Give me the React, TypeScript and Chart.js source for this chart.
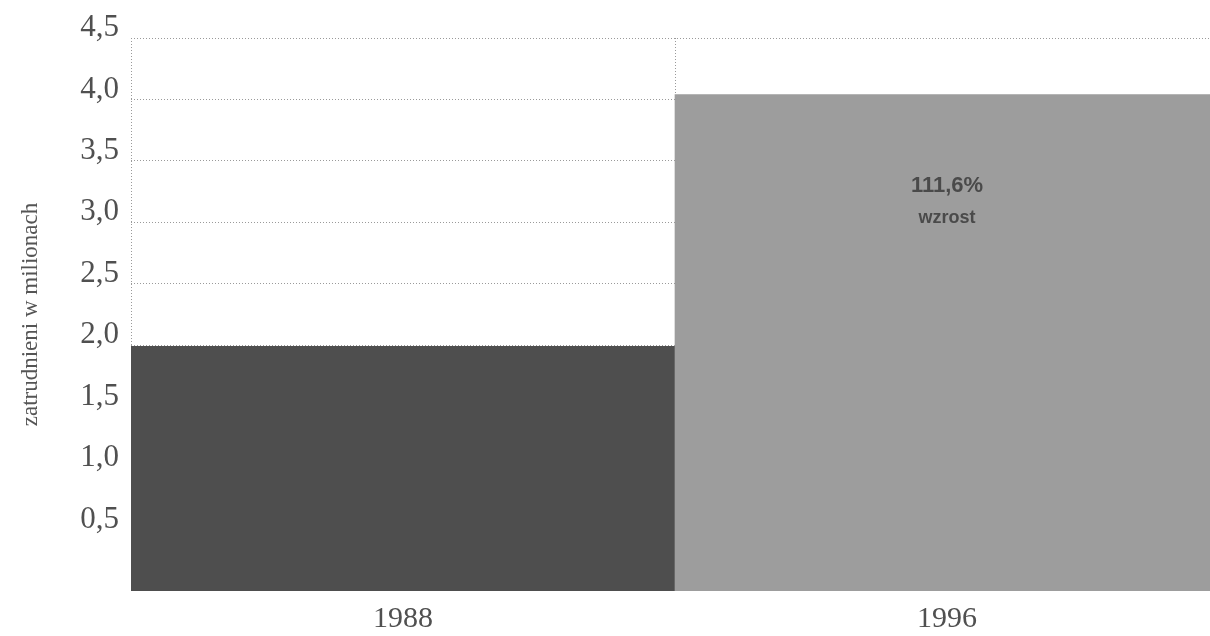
import React, { useEffect, useRef } from "react";
import { Chart, registerables } from "chart.js";

Chart.register(...registerables);

// Employment (millions) by year
const years = ["1988", "1996"];
const employedMillions = [1.99, 4.04];
const barColors = ["#4e4e4e", "#9d9d9d"];
const yTickValues = [0.5, 1.0, 1.5, 2.0, 2.5, 3.0, 3.5, 4.0, 4.5];
const yTickLabels = ["0,5", "1,0", "1,5", "2,0", "2,5", "3,0", "3,5", "4,0", "4,5"];
const growthLines = ["111,6%", "wzrost"];
const yAxisTitle = "zatrudnieni w milionach";

const growthLabelPlugin = {
  id: "growthLabel",
  afterDatasetsDraw(chart: any) {
    const meta = chart.getDatasetMeta(0);
    const bar = meta.data[1];
    if (!bar) return;
    const ctx = chart.ctx;
    ctx.save();
    ctx.fillStyle = "#4a4a4a";
    ctx.textAlign = "center";
    ctx.textBaseline = "middle";
    ctx.font = "bold 22px 'Liberation Sans Narrow', 'Liberation Sans', sans-serif";
    ctx.fillText(growthLines[0], bar.x, bar.y + 91);
    ctx.font = "bold 18px 'Liberation Sans Narrow', 'Liberation Sans', sans-serif";
    ctx.fillText(growthLines[1], bar.x, bar.y + 124);
    ctx.restore();
  },
};

export default function App() {
  const canvasRef = useRef<HTMLCanvasElement | null>(null);

  useEffect(() => {
    if (!canvasRef.current) return;
    const chart = new Chart(canvasRef.current, {
      type: "bar",
      data: {
        labels: years,
        datasets: [
          {
            data: employedMillions,
            backgroundColor: barColors,
            borderWidth: 0,
            barPercentage: 1,
            categoryPercentage: 1,
          },
        ],
      },
      options: {
        animation: false,
        responsive: false,
        maintainAspectRatio: false,
        layout: { padding: { top: 38, right: 0, bottom: 0, left: 0 } },
        plugins: {
          legend: { display: false },
          tooltip: { enabled: false },
        },
        scales: {
          x: {
            offset: true,
            border: { display: false, dash: [1, 2] },
            afterFit(scale: any) {
              scale.height = 45;
            },
            grid: {
              offset: true,
              drawTicks: false,
              color: "#9a9a9a",
              lineWidth: 1,
            },
            ticks: {
              color: "#505050",
              padding: 10,
              font: { family: "'Liberation Serif', serif", size: 30 },
            },
          },
          y: {
            min: 0,
            max: 4.5,
            border: { display: false, dash: [1, 2] },
            afterBuildTicks(scale: any) {
              scale.ticks = yTickValues.map((v) => ({ value: v }));
            },
            afterFit(scale: any) {
              scale.width = 131;
            },
            grid: {
              drawTicks: false,
              color: "#9a9a9a",
              lineWidth: 1,
            },
            ticks: {
              color: "#505050",
              padding: 12,
              labelOffset: -10,
              font: { family: "'Liberation Serif', serif", size: 31 },
              callback: (value: any) => {
                const i = yTickValues.indexOf(Number(value));
                return i >= 0 ? yTickLabels[i] : "";
              },
            },
            title: {
              display: true,
              text: yAxisTitle,
              color: "#555555",
              padding: { top: 17, bottom: 0 },
              font: { family: "'Liberation Serif', serif", size: 23 },
            },
          },
        },
      },
      plugins: [growthLabelPlugin],
    });
    return () => chart.destroy();
  }, []);

  return (
    <div style={{ position: "fixed", left: 0, top: 0, width: 1219, height: 636, background: "#ffffff" }}>
      <canvas ref={canvasRef} width={1219} height={636} style={{ display: "block" }} />
    </div>
  );
}
